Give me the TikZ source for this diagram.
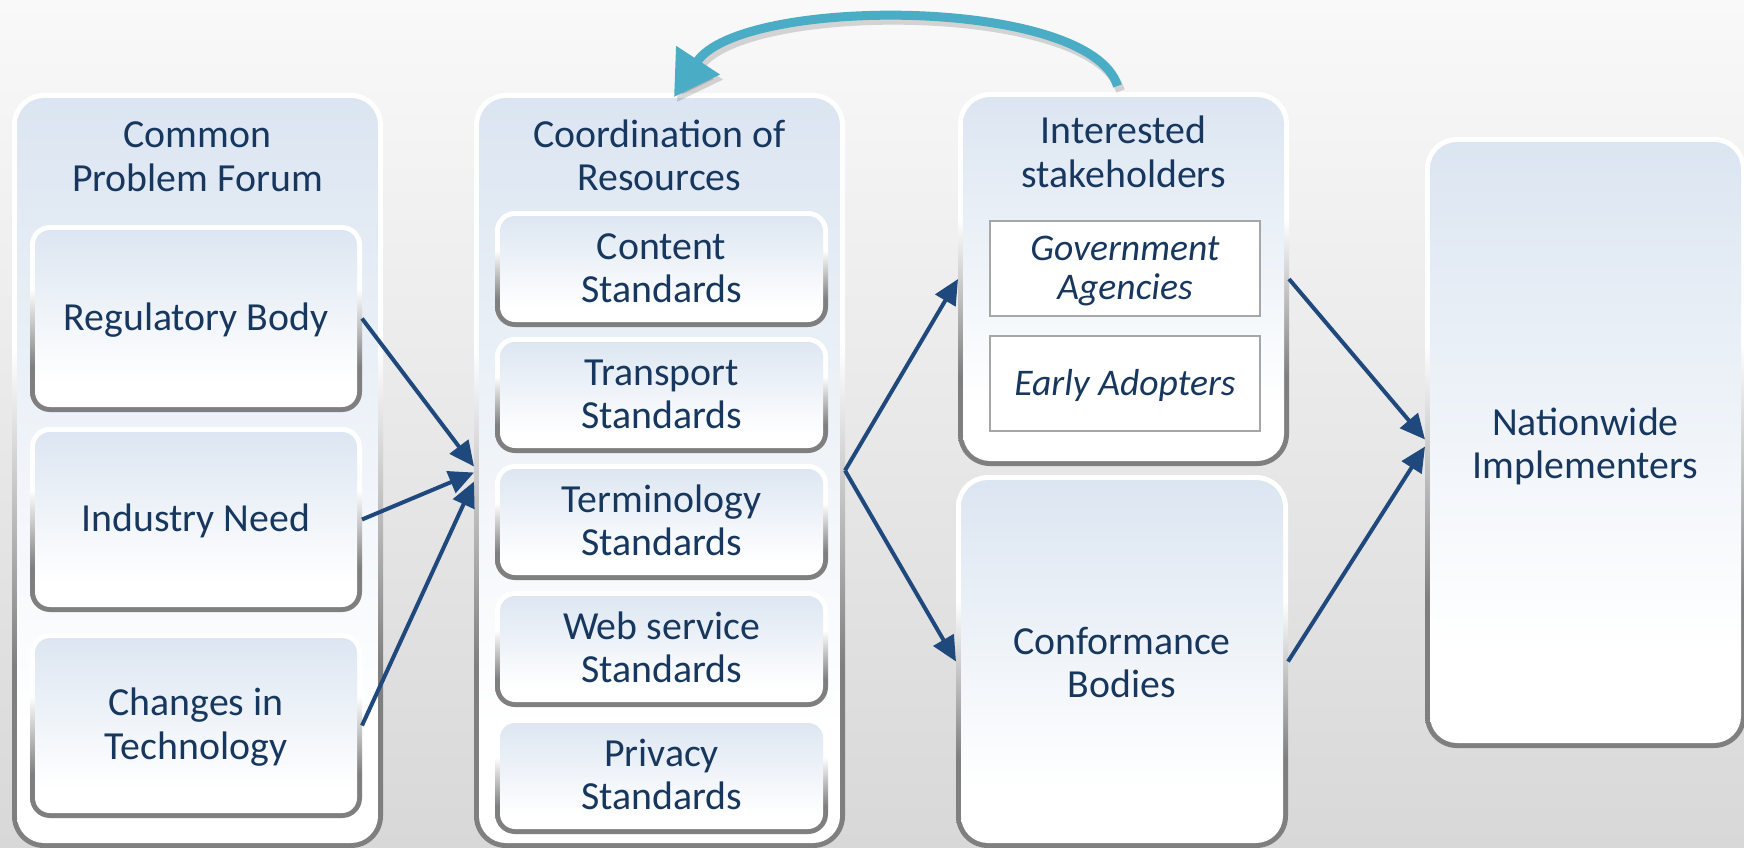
\documentclass[tikz,border=0pt]{standalone}
\usepackage{fontspec}
\setmainfont{Carlito}
\usetikzlibrary{arrows.meta,calc}
\definecolor{txtblue}{HTML}{17375E}
\definecolor{boxtop}{HTML}{DBE5F1}
\definecolor{arrowblue}{HTML}{1F497D}
\definecolor{arcteal}{HTML}{4BACC6}
\definecolor{bordergray}{HTML}{7F7F7F}
\definecolor{bgtop}{HTML}{F9F9F9}
\definecolor{bgbottom}{HTML}{D8D8D8}
\pgfdeclareverticalshading{bordershade}{100bp}{color(0bp)=(bordergray); color(25bp)=(bordergray); color(37bp)=(bordergray); color(58bp)=(white); color(100bp)=(white)}
\pgfdeclareverticalshading{fillshade}{100bp}{color(0bp)=(white); color(25bp)=(white); color(33bp)=(white); color(75bp)=(boxtop); color(100bp)=(boxtop)}
\newcommand\mainfs{\fontsize{19.9pt}{21.75pt}\selectfont}
\newcommand\itfs{\fontsize{18.8pt}{19.5pt}\selectfont\itshape}
\tikzset{
  panelbase/.style={shade, shading=bordershade, inner sep=0pt, outer sep=0pt, text=txtblue, align=center, font=\mainfs},
  panel/.style={panelbase, rounded corners=16pt,
    path picture={\shade[shading=fillshade, rounded corners=13.5pt] ($(path picture bounding box.south west)+(2.5pt,2.5pt)$) rectangle ($(path picture bounding box.north east)+(-2.5pt,-2.5pt)$);}},
  subpanel/.style={panelbase, rounded corners=10pt,
    path picture={\shade[shading=fillshade, rounded corners=7.5pt] ($(path picture bounding box.south west)+(2.5pt,2.5pt)$) rectangle ($(path picture bounding box.north east)+(-2.5pt,-2.5pt)$);}},
  oneline/.style={text height=16.9pt, text depth=4.5pt},
  twoline/.style={text height=38.35pt, text depth=4.5pt},
  twolinebig/.style={text height=40.5pt, text depth=4.5pt},
  stdbox/.style={subpanel, twoline, minimum width=166.5pt, minimum height=58pt},
  leftbox/.style={subpanel, minimum width=166pt},
  ibox/.style={draw=black!35, line width=0.8pt, fill=white, text=txtblue, font=\itfs, align=center, inner sep=0pt, minimum width=135pt, minimum height=47.5pt},
  ttl/.style={text=txtblue, align=center, font=\mainfs, inner sep=0pt, twoline},
  conn/.style={draw=arrowblue, line width=2pt, -{Triangle[length=12.5pt,width=11.5pt]}},
  arcarrow/.style={draw=arcteal, line width=4.5pt, -{Triangle[length=22pt,width=25pt]}},
  arcshadow/.style={draw=black, opacity=0.15, line width=4.5pt, -{Triangle[length=22pt,width=25pt]}},
}
\begin{document}
\begin{tikzpicture}[x=0.5pt,y=-0.5pt]
\useasboundingbox (0,0) rectangle (1744,847);
\shade[top color=bgtop, bottom color=bgbottom] (0,0) rectangle (1744,847);

% column 1
\node[panel, minimum width=185.5pt, minimum height=377.5pt] (cpf) at (197.5,470.5) {};
\node[ttl] (cpft) at (197.5,157.5) {Common\\Problem Forum};
\node[leftbox, oneline, minimum height=93.5pt] (reg) at (196,318.5) {Regulatory Body};
\node[leftbox, oneline, minimum height=92.5pt] (ind) at (196,519.5) {Industry Need};
\node[leftbox, twoline, minimum height=92.5pt] (tech) at (196,725.5) {Changes in\\Technology};

% column 2
\node[panel, minimum width=185.5pt, minimum height=377.5pt] (mid) at (659.5,470.5) {};
\node[ttl] (midt) at (659.5,157) {Coordination of\\Resources};
\node[stdbox] (cont) at (661.5,269) {Content\\Standards};
\node[stdbox] (trans) at (661.5,395) {Transport\\Standards};
\node[stdbox] (term) at (661.5,522) {Terminology\\Standards};
\node[stdbox] (web) at (661.5,649) {Web service\\Standards};
\node[stdbox] (priv) at (661.5,776) {Privacy\\Standards};

% column 3
\node[panel, minimum width=165.5pt, minimum height=187pt] (int) at (1123.5,279) {};
\node[ttl] (intt) at (1123.5,153.5) {Interested\\stakeholders};
\node[ibox, text height=35.5pt, text depth=4.3pt] (govt) at (1125,268.5) {Government\\Agencies};
\node[ibox, text height=16.7pt, text depth=4.3pt] (early) at (1125,383.5) {Early Adopters};
\node[panel, twolinebig, minimum width=166pt, minimum height=186.5pt] (conf) at (1122,661.5) {Conformance\\Bodies};

% column 4
\node[panel, twolinebig, minimum width=160.5pt, minimum height=305.5pt] (nat) at (1585.5,442.5) {Nationwide\\Implementers};

% connectors
\draw[conn] (reg.east) -- ($(mid.west)+(0,-4)$);
\draw[conn] (ind.east) -- ($(mid.west)+(0,2)$);
\draw[conn] (tech.east) -- ($(mid.west)+(0,11)$);
\draw[conn] (mid.east) -- (int.west);
\draw[conn] (mid.east) -- (conf.west);
\draw[conn] (int.east) -- ($(nat.west)+(0,-3)$);
\draw[conn] (conf.east) -- ($(nat.west)+(0,4)$);

% feedback arc
\draw[arcshadow] ($(int.north)+(-3,-1)$) .. controls (1093,1) and (743,1) .. ($(mid.north)+(17.5,9)$);
\draw[arcarrow] ($(int.north)+(-6,-6)$) .. controls (1090,-4) and (740,-4) .. ($(mid.north)+(14.5,4)$);
\end{tikzpicture}
\end{document}
